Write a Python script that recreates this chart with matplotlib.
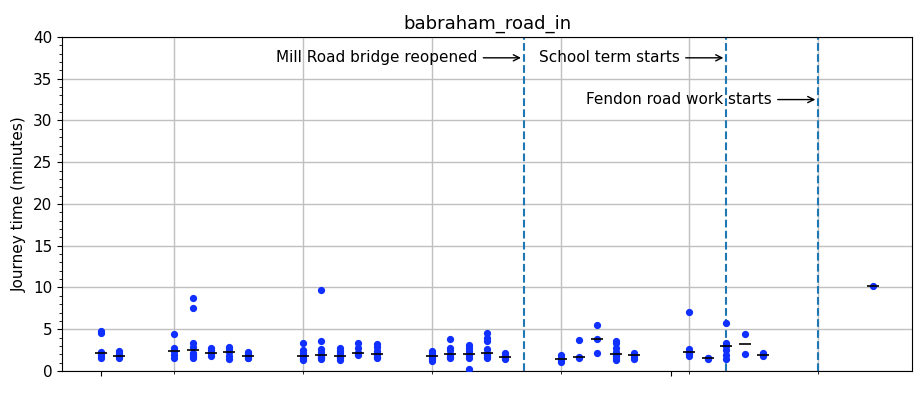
import datetime as dt

import matplotlib
matplotlib.use("Agg")
import matplotlib.pyplot as plt
import matplotlib.dates as mdates
from matplotlib.ticker import MultipleLocator, NullFormatter
import numpy as np

route = "babraham_road_in"

days = [
    "2019-08-01", "2019-08-02",
    "2019-08-05", "2019-08-06", "2019-08-07", "2019-08-08", "2019-08-09",
    "2019-08-12", "2019-08-13", "2019-08-14", "2019-08-15", "2019-08-16",
    "2019-08-19", "2019-08-20", "2019-08-21", "2019-08-22", "2019-08-23",
    "2019-08-26", "2019-08-27", "2019-08-28", "2019-08-29", "2019-08-30",
    "2019-09-02", "2019-09-03", "2019-09-04", "2019-09-05", "2019-09-06",
    "2019-09-12",
]

# journey times (minutes) for each day
journey_times = [
    [4.8, 4.6, 2.3, 2.1, 2.0, 1.8, 1.6],
    [2.4, 2.1, 1.8, 1.7, 1.5],
    [4.4, 2.7, 2.4, 2.4, 1.9, 1.5],
    [8.8, 7.6, 3.3, 2.9, 2.1, 2.0, 1.8, 1.6],
    [2.8, 2.5, 2.2, 2.1, 1.8],
    [2.9, 2.6, 2.3, 1.8, 1.4],
    [2.3, 2.0, 1.8, 1.6, 1.5],
    [3.4, 2.5, 2.1, 1.8, 1.6, 1.4, 1.3],
    [9.7, 3.6, 2.6, 2.3, 1.9, 1.8, 1.7, 1.5, 1.4],
    [2.7, 2.4, 2.1, 1.8, 1.7, 1.5, 1.3],
    [3.4, 2.7, 2.2, 2.1, 1.9],
    [3.2, 2.9, 2.4, 2.0, 1.9, 1.7, 1.5],
    [2.4, 2.1, 1.9, 1.8, 1.6, 1.4, 1.2],
    [3.8, 2.8, 2.5, 2.0, 1.9, 1.7, 1.5],
    [3.1, 2.8, 2.4, 2.0, 1.9, 1.5, 0.2],
    [4.6, 3.9, 3.6, 2.6, 2.1, 2.0, 1.9, 1.7, 1.5],
    [2.1, 1.9, 1.7, 1.6, 1.4],
    [1.9, 1.6, 1.4, 1.3, 1.1],
    [3.7, 1.7, 1.6],
    [5.5, 3.8, 2.1],
    [3.6, 3.3, 2.7, 2.3, 2.0, 1.9, 1.8, 1.5, 1.3],
    [2.2, 2.0, 1.9, 1.7, 1.4],
    [7.1, 2.6, 2.3, 2.2, 2.0, 1.8],
    [1.6, 1.5, 1.4],
    [5.7, 3.3, 3.1, 3.0, 2.5, 1.9, 1.4],
    [4.4, 2.0],
    [2.2, 1.9, 1.8],
    [10.15],
]

events = ["Mill Road bridge reopened", "School term starts", "Fendon road work starts"]
event_days = ["2019-08-24", "2019-09-04", "2019-09-09"]
event_y = [37.5, 37.5, 32.5]

plt.rcParams["font.size"] = 11

fig = plt.figure(figsize=(9.24, 3.93), dpi=100)
ax = fig.add_subplot(1, 1, 1)
fig.subplots_adjust(left=0.067, right=0.987, top=0.906, bottom=0.056)

for day, times in zip(days, journey_times):
    d = dt.datetime.strptime(day, "%Y-%m-%d")
    ax.plot([d] * len(times), times, "o", color="#1030ff", markersize=4.2, zorder=3)
    ax.plot([d], [np.median(times)], "_", color="k", markersize=9,
            markeredgewidth=1.2, zorder=4)

for label, day, y in zip(events, event_days, event_y):
    d = dt.datetime.strptime(day, "%Y-%m-%d")
    ax.axvline(d, color="#1f77b4", linestyle="--", linewidth=1.5, zorder=2)
    ax.annotate(label, xy=(d, y), xytext=(d - dt.timedelta(days=2.5), y),
                ha="right", va="center", fontsize=11,
                arrowprops=dict(arrowstyle="->", color="k"))

ax.set_ylim(0, 40)
ax.yaxis.set_major_locator(MultipleLocator(5))
ax.yaxis.set_minor_locator(MultipleLocator(1))
ax.xaxis.set_major_locator(mdates.MonthLocator())
ax.xaxis.set_minor_locator(mdates.WeekdayLocator(byweekday=mdates.MO))
ax.xaxis.set_major_formatter(NullFormatter())
ax.xaxis.set_minor_formatter(NullFormatter())

ax.grid(axis="y", which="major", color="#c0c0c0", linewidth=1)
ax.grid(axis="x", which="minor", color="#c0c0c0", linewidth=1)
ax.set_axisbelow(True)

ax.set_ylabel("Journey time (minutes)")
ax.set_title(route, fontsize=13)

fig.savefig("out.png", dpi=100)
